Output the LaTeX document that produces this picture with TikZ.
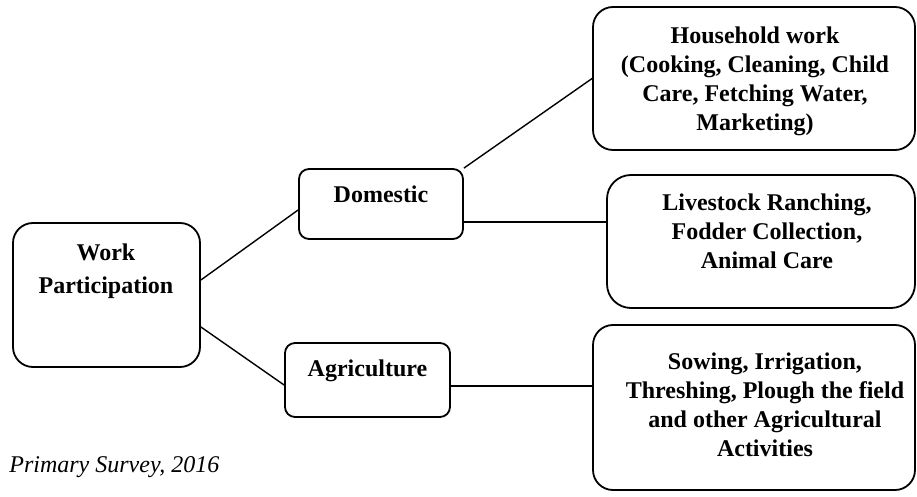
\documentclass[tikz,border=0pt]{standalone}
\usepackage{fontspec}
\setmainfont{Liberation Serif}

\begin{document}
\begin{tikzpicture}[x=0.5pt,y=-0.5pt,
	box/.style={draw,line width=0.9pt,rounded corners=#1,inner sep=0pt},
	box/.default=5pt,
	txt/.style={align=center,font=\fontsize{12}{14.5}\selectfont\bfseries},
	conn/.style={line width=0.7pt}]
	\useasboundingbox (0,0) rectangle (917,497);
	\node[box=10pt,minimum width=93.5pt,minimum height=72pt] (wp) at (106.5,295) {};
	\node[box,minimum width=82pt,minimum height=35pt] (dom) at (381,204) {};
	\node[box,minimum width=82.5pt,minimum height=37pt] (agr) at (367.5,380) {};
	\node[box=10pt,minimum width=161pt,minimum height=71.5pt] (hh) at (754,78.5) {};
	\node[box=12pt,minimum width=154pt,minimum height=66.5pt] (ls) at (761,241.5) {};
	\node[box=10pt,minimum width=161pt,minimum height=82.5pt] (act) at (754,407.5) {};
	\node[txt,font=\fontsize{12}{16.5}\selectfont\bfseries] (wpt) at (106,271) {Work\\Participation};
	\node[txt] (domt) at (381,194) {Domestic};
	\node[txt] (agrt) at (367.5,371) {Agriculture};
	\node[txt] (hht) at (755,81) {Household work\\(Cooking, Cleaning, Child\\Care, Fetching Water,\\Marketing)};
	\node[txt] (lst) at (767,231) {Livestock Ranching,\\Fodder Collection,\\Animal Care};
	\node[txt] (actt) at (765,405) {Sowing, Irrigation,\\Threshing, Plough the field\\and other Agricultural\\Activities};
	\node[anchor=west,inner sep=0pt,font=\fontsize{12}{14}\selectfont\itshape] (src) at (9,467) {Primary Survey, 2016};
	\coordinate (dl) at ([yshift=-9pt]dom.east);
	\coordinate (al) at ([yshift=-3pt]agr.east);
	\draw[conn] ([yshift=7.5pt]wp.east) -- ([yshift=-3pt]dom.west);
	\draw[conn] ([yshift=-16pt]wp.east) -- ([yshift=-2.5pt]agr.west);
	\draw[conn] (dom.north east) -- (hh.west);
	\draw[conn] (dl) -- (dl -| ls.west);
	\draw[conn] (al) -- (al -| act.west);
\end{tikzpicture}
\end{document}
